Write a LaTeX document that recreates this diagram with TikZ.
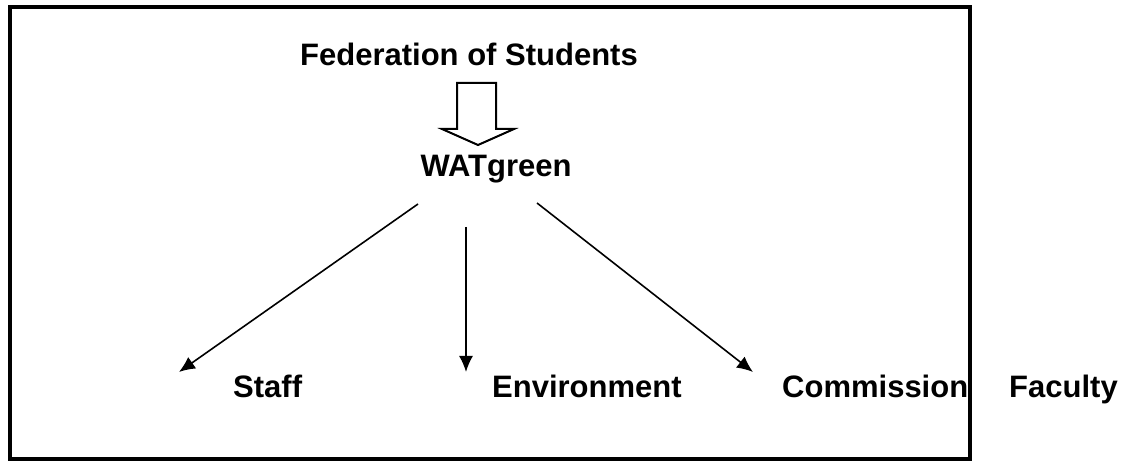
\documentclass[tikz,border=0pt]{standalone}
\usepackage{fontspec}
\setmainfont{Liberation Sans}
\usetikzlibrary{arrows.meta}
\begin{document}
\begin{tikzpicture}[x=1pt,y=-1pt,
  lbl/.style={font=\fontsize{31}{37}\selectfont\bfseries,inner sep=0pt,anchor=base west},
  conn/.style={line width=1.6pt,-{Latex[length=16pt,width=14pt]}}]
  \useasboundingbox (0,0) rectangle (1125,462);
  % labels
  \node [lbl] (fed) at (300,66) {Federation of Students};
  \node [lbl,anchor=base] (wat) at (496,177) {WATgreen};
  \node [lbl] (staff) at (233,397) {Staff};
  \node [lbl] (env) at (492,397) {Environment};
  \node [lbl] (comm) at (782,397) {Commission};
  \node [lbl] (fac) at (1009,397) {Faculty};
  % hollow arrow
  \draw [line width=2pt,line join=miter] (457,83) -- (496,83) -- (496,129) -- (514,129)
    -- (478,145) -- (442,129) -- (457,129) -- cycle;
  % connectors
  \coordinate (wl) at (418,204);
  \coordinate (wm) at (466,227);
  \coordinate (wr) at (537,203);
  \coordinate (tl) at (179,372);
  \coordinate (tm) at (466,372);
  \coordinate (tr) at (753,372);
  \draw [conn] (wl) -- (tl);
  \draw [conn] (wm) -- (tm);
  \draw [conn] (wr) -- (tr);
  % frame
  \draw [line width=4pt] (10,7) rectangle (970,459);
\end{tikzpicture}
\end{document}
